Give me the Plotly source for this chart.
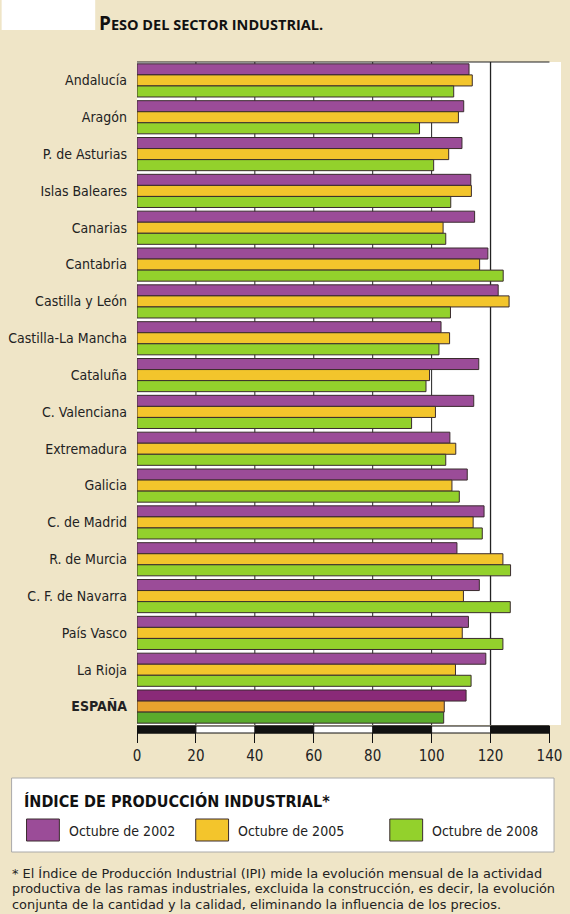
import plotly.graph_objects as go

regions = ["Andalucía", "Aragón", "P. de Asturias", "Islas Baleares", "Canarias",
           "Cantabria", "Castilla y León", "Castilla-La Mancha", "Cataluña",
           "C. Valenciana", "Extremadura", "Galicia", "C. de Madrid", "R. de Murcia",
           "C. F. de Navarra", "País Vasco", "La Rioja", "ESPAÑA"]
series_names = ["Octubre de 2002", "Octubre de 2005", "Octubre de 2008"]
oct2002 = [112.7, 110.9, 110.3, 113.3, 114.6, 119.1, 122.6, 103.2, 116.0, 114.3,
           106.2, 112.1, 117.8, 108.6, 116.2, 112.5, 118.4, 111.7]
oct2005 = [113.8, 109.1, 105.8, 113.5, 103.9, 116.3, 126.3, 106.1, 99.3, 101.3,
           108.2, 106.9, 114.1, 124.2, 110.8, 110.4, 108.1, 104.3]
oct2008 = [107.5, 95.9, 100.7, 106.5, 104.8, 124.3, 106.4, 102.5, 98.1, 93.2,
           104.8, 109.4, 117.2, 126.8, 126.7, 124.2, 113.4, 104.1]
tick_vals = [0, 20, 40, 60, 80, 100, 120, 140]

colors = ["#9b4c98", "#f3c52c", "#93d12c"]
colors_es = ["#8a2a78", "#e8a22e", "#5aab2c"]
values = [oct2002, oct2005, oct2008]

W, H = 570, 914
L, R, T, B = 136, 8, 62, 725
PW, PH = W - L - R, B - T
XMAX = PW / 2.96
FONT = "DejaVu Sans Condensed, DejaVu Sans"

def xp(px):
    return (px - L) / PW

def yp(py):
    return (B - py) / PH

fig = go.Figure()
for name, vals, c, ce in zip(series_names, values, colors, colors_es):
    fig.add_trace(go.Bar(
        y=regions, x=vals, orientation="h", name=name,
        marker=dict(color=[ce if r == "ESPAÑA" else c for r in regions],
                    line=dict(color="#3a2b2e", width=1)),
        showlegend=False,
    ))

shapes = []
for v in tick_vals[1:-1]:
    shapes.append(dict(type="line", xref="x", yref="paper", x0=v, x1=v, y0=0, y1=1,
                       line=dict(color="#222", width=1.3 if v == 120 else 1), layer="below"))
shapes.append(dict(type="line", xref="x", yref="paper", x0=0, x1=140, y0=1, y1=1,
                   line=dict(color="#222", width=1.2)))
sb0, sb1 = yp(733), yp(726)
shapes.append(dict(type="rect", xref="x", yref="paper", x0=0, x1=140, y0=sb0, y1=sb1,
                   fillcolor="white", line=dict(color="#111", width=1)))
for i in range(0, len(tick_vals) - 1, 2):
    shapes.append(dict(type="rect", xref="x", yref="paper", x0=tick_vals[i], x1=tick_vals[i + 1],
                       y0=sb0, y1=sb1, fillcolor="#111", line=dict(color="#111", width=1)))
shapes.append(dict(type="rect", xref="paper", yref="paper", x0=xp(0), x1=xp(94),
                   y0=yp(0), y1=yp(30), fillcolor="white", line=dict(width=0), layer="below"))
shapes.append(dict(type="rect", xref="paper", yref="paper", x0=xp(10), x1=xp(555),
                   y0=yp(852), y1=yp(778), fillcolor="white", line=dict(color="#aaa", width=1)))

annotations = []
sw_x = [25, 195, 390]
tx_x = [66, 235, 430]
for sx, tx, c, name in zip(sw_x, tx_x, colors, series_names):
    shapes.append(dict(type="rect", xref="paper", yref="paper", x0=xp(sx), x1=xp(sx + 33),
                       y0=yp(841), y1=yp(819), fillcolor=c, line=dict(color="#3a2b2e", width=1)))
    annotations.append(dict(xref="paper", yref="paper", x=xp(tx), y=yp(831), text=name,
                            showarrow=False, xanchor="left", yanchor="middle",
                            font=dict(size=14, color="#222", family=FONT)))

annotations.append(dict(xref="paper", yref="paper", x=xp(20), y=yp(801),
                        text="<b>ÍNDICE DE PRODUCCIÓN INDUSTRIAL*</b>", showarrow=False,
                        xanchor="left", yanchor="middle",
                        font=dict(size=16, color="#111", family=FONT)))
annotations.append(dict(xref="paper", yref="paper", x=xp(96), y=yp(23),
                        text="<b><span style='font-size:19px'>P</span>ESO DEL SECTOR INDUSTRIAL.</b>",
                        showarrow=False, xanchor="left", yanchor="middle",
                        font=dict(size=14.5, color="#111", family="Open Sans")))
foot_lines = ["* El Índice de Producción Industrial (IPI) mide la evolución mensual de la actividad",
              "productiva de las ramas industriales, excluida la construcción, es decir, la evolución",
              "conjunta de la cantidad y la calidad, eliminando la influencia de los precios."]
for k, line in enumerate(foot_lines):
    annotations.append(dict(xref="paper", yref="paper", x=xp(8), y=yp(873 + 15.5 * k), text=line,
                            showarrow=False, xanchor="left", yanchor="middle", align="left",
                            font=dict(size=12.9, color="#222", family="DejaVu Sans")))

ticktext = [f"<b>{r}</b>" if r == "ESPAÑA" else r for r in regions]

fig.update_layout(
    width=W, height=H,
    margin=dict(l=L, r=R, t=T, b=H - B),
    paper_bgcolor="#efe5c7",
    plot_bgcolor="white",
    barmode="group", bargap=0.1, bargroupgap=0,
    shapes=shapes, annotations=annotations,
    xaxis=dict(range=[0, XMAX], tickvals=tick_vals, showgrid=False, zeroline=False,
               ticks="outside", ticklen=17, tickcolor="#111", tickwidth=1,
               tickfont=dict(size=15, color="#222", family=FONT),
               showline=False),
    yaxis=dict(categoryorder="array", categoryarray=regions, autorange="reversed",
               tickvals=regions, ticktext=ticktext, ticks="", ticklabelstandoff=9,
               showgrid=False, zeroline=False,
               tickfont=dict(size=14, color="#222", family=FONT)),
    font=dict(family=FONT),
)

fig.write_html("out.html")
